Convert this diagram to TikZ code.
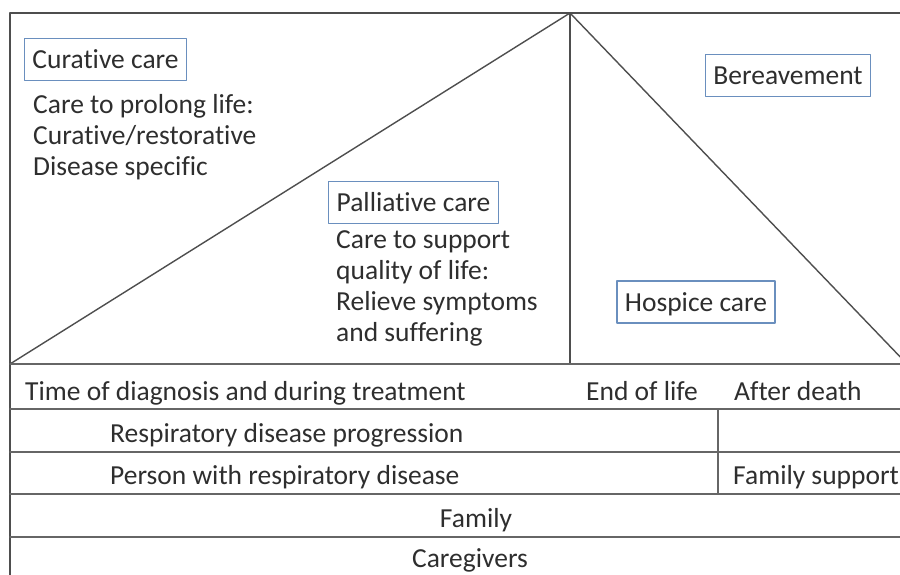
\documentclass[tikz,border=0pt]{standalone}
\usepackage{fontspec}
\setmainfont{Carlito}[Ligatures=NoCommon]
\definecolor{boxblue}{HTML}{6A8FBE}
\definecolor{linegray}{HTML}{4E4E4E}
\definecolor{rowgray}{HTML}{666666}
\definecolor{textgray}{HTML}{2E2E2E}
\begin{document}
\begin{tikzpicture}[x=1pt, y=-1pt, line join=round, line cap=round,
	font=\fontsize{27.5}{31}\selectfont, text=textgray,
	lbl/.style={inner sep=0pt},
	carebox/.style={draw=boxblue, line width=1.3pt, inner xsep=8pt, inner ysep=0pt,
		text height=18pt, text depth=0pt, minimum height=42pt},
	slope/.style={draw=linegray, line width=1.4pt},
	rowline/.style={draw=rowgray, line width=1.6pt}]
	\useasboundingbox (0,0) rectangle (900,574);
	\clip (0,0) rectangle (900,574);
	\def\xl{10} \def\xr{907} \def\xm{570} \def\xd{718}
	\def\ytop{13} \def\ybase{364} \def\ybot{580}
	\coordinate (topL) at (\xl,\ytop);
	\coordinate (topR) at (\xr,\ytop);
	\coordinate (apex) at (\xm,\ytop);
	\coordinate (botL) at (\xl,\ybot);
	\coordinate (baseL) at (\xl,\ybase);
	\coordinate (baseM) at (\xm,\ybase);
	\coordinate (baseR) at (\xr,\ybase);
	\foreach \y/\n in {409/rowA, 452/rowB, 494/rowC, 537/rowD}{
		\coordinate (\n L) at (\xl,\y);
		\coordinate (\n R) at (\xr,\y);
	}
	\coordinate (divT) at (\xd,409);
	\coordinate (divB) at (\xd,494);
	% frame and the two triangles
	\draw[slope] (botL) -- (topL) -- (topR);
	\draw[slope] (baseL) -- (apex) -- (baseR);
	\draw[slope] (apex) -- (baseM);
	\draw[rowline] (baseL) -- (baseR);
	\foreach \n in {rowA, rowB, rowC, rowD}
		\draw[rowline] (\n L) -- (\n R);
	\draw[rowline] (divT) -- (divB);
	\node[carebox] (curative) at (105.5,59.5) {Curative care};
	\node[lbl, anchor=north west, align=left] (curtext) at (33,94) {Care to prolong life:\\Curative/restorative\\Disease specific};
	\node[carebox] (palliative) at (413.5,202.5) {Palliative care};
	\node[lbl, anchor=north west, align=left] (paltext) at (336,230) {Care to support\\quality of life:\\Relieve symptoms\\and suffering};
	\node[carebox] (bereave) at (788,75.5) {Bereavement};
	\node[carebox] (hospice) at (696,302) {Hospice care};
	\node[lbl, anchor=base west] (diagnosis) at (25,400) {Time of diagnosis and during treatment};
	\node[lbl, anchor=base] (endlife) at (642,400) {End of life};
	\node[lbl, anchor=base west] (afterdeath) at (734,400) {After death};
	\node[lbl, anchor=base west] (progress) at (110,442) {Respiratory disease progression};
	\node[lbl, anchor=base west] (person) at (110,484) {Person with respiratory disease};
	\node[lbl, anchor=base west] (famsupport) at (733,484) {Family support};
	\node[lbl, anchor=base] (family) at (476,527) {Family};
	\node[lbl, anchor=base] (caregivers) at (470,567) {Caregivers};
\end{tikzpicture}
\end{document}
